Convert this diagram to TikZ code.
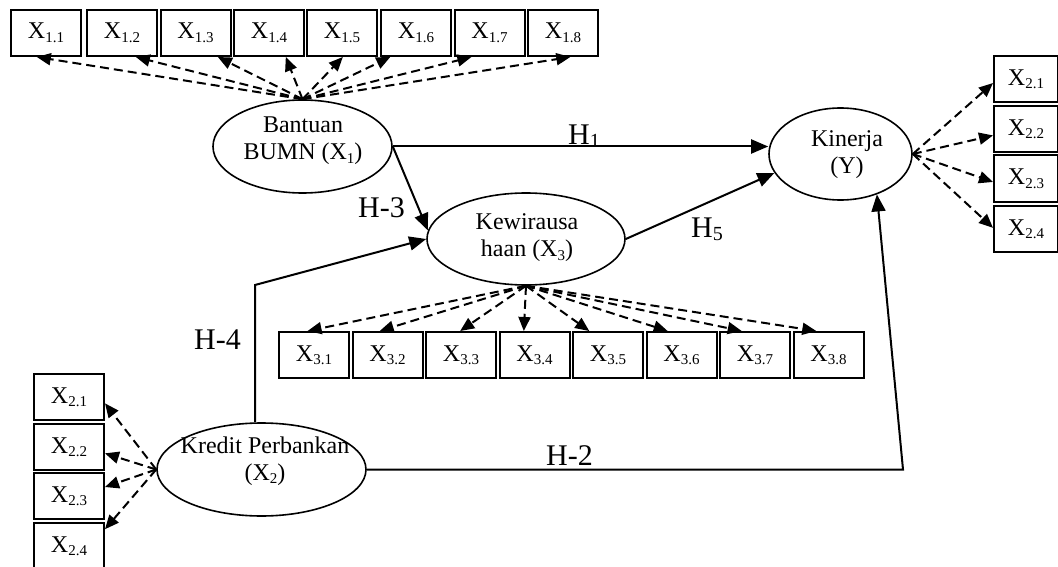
\documentclass[tikz,border=0pt]{standalone}
\usepackage{fontspec}
\setmainfont{Liberation Serif}
\usetikzlibrary{arrows.meta,shapes.geometric}
\newcommand\lowsub[1]{\raisebox{-3.5pt}{\fontsize{15}{15}\selectfont #1}}
\newcommand\hsub[1]{\raisebox{-3pt}{\fontsize{20}{20}\selectfont #1}}
\begin{document}
\begin{tikzpicture}[x=1pt,y=-1pt,
  ind/.style={draw,line width=2pt,minimum width=70pt,minimum height=46pt,inner sep=0pt,font=\fontsize{24}{27}\selectfont},
  lat/.style={draw,ellipse,line width=1.6pt,inner sep=0pt},
  lattext/.style={align=center,inner sep=0pt,font=\fontsize{24}{27}\selectfont},
  hlab/.style={anchor=base west,inner sep=0pt,font=\fontsize{30}{30}\selectfont},
  conn/.style={line width=2pt,-{Triangle[length=17pt,width=14pt]}},
  load/.style={line width=2pt,dash pattern=on 9pt off 5pt,-{Triangle[length=14pt,width=12pt]}}]
\useasboundingbox (0,0) rectangle (1058,567);

% latent variables
\node[lat,minimum width=179pt,minimum height=93pt] (bumn) at (302.5,146.5) {};
\node[lat,minimum width=198pt,minimum height=92pt] (kew) at (526,239) {};
\node[lat,minimum width=143pt,minimum height=92pt] (kin) at (840.5,154) {};
\node[lat,minimum width=209pt,minimum height=93pt] (kred) at (261.5,469.5) {};

\node[lattext] (tbumn) at (303,141) {Bantuan\\BUMN (X\lowsub{1})};
\node[lattext] (tkew) at (527,238) {Kewirausa\\haan (X\lowsub{3})};
\node[lattext] (tkin) at (847,155) {Kinerja\\(Y)};
\node[lattext] (tkred) at (265,461) {Kredit Perbankan\\(X\lowsub{2})};

% indicators
\foreach \i/\x in {1/46,2/122,3/195.5,4/269,5/342,6/416,7/489.5,8/563}
  \node[ind] (a\i) at (\x,33) {X\lowsub{1.\i}\hspace{5pt}};
\foreach \i/\x in {1/314,2/387.5,3/461,4/534.5,5/608,6/681.5,7/755,8/828.5}
  \node[ind] (b\i) at (\x,355) {X\lowsub{3.\i}\hspace{5pt}};
\foreach \i/\y in {1/79,2/129,3/178.5,4/229}
  \node[ind,minimum width=64pt] (r\i) at (1026,\y) {X\lowsub{2.\i}\hspace{3pt}};
\foreach \i/\y in {1/397,2/447,3/496,4/546}
  \node[ind] (l\i) at (69,\y) {X\lowsub{2.\i}\hspace{5pt}};

% loadings
\foreach \i/\a in {1/249,2/300,3/313,4/305,5/272,6/223,7/233,8/287}
  \draw[load] (bumn.north) -- (a\i.\a);
\foreach \i/\a in {1/105,2/108,3/92,4/114,5/128,6/120,7/119,8/117}
  \draw[load] (kew.south) -- (b\i.\a);
\foreach \i/\a in {1/187,2/191,3/186,4/178}
  \draw[load] (kin.east) -- (r\i.\a);
\foreach \i/\a in {1/350,2/350,3/14,4/25}
  \draw[load] (kred.west) -- (l\i.\a);

% structural paths
\coordinate (h4c) at (255,285);
\coordinate (h2c) at (903,469.5);
\draw[conn] (bumn.east) -- (bumn.east -| kin.west);
\draw[conn] (bumn.east) -- (kew.175);
\draw[conn] (kred.north -| h4c) -- (h4c) -- (kew.west);
\draw[conn] (kew.east) -- (kin.196);
\draw[conn] (kred.east) -- (h2c) -- (kin.312);

% labels
\node[hlab] (h1) at (568,145) {H\hsub{1}};
\node[hlab] (h5) at (691,237) {H\hsub{5}};
\node[hlab] (h3) at (358,217) {H-3};
\node[hlab] (h4) at (194,349) {H-4};
\node[hlab] (h2) at (546,465) {H-2};
\end{tikzpicture}
\end{document}
